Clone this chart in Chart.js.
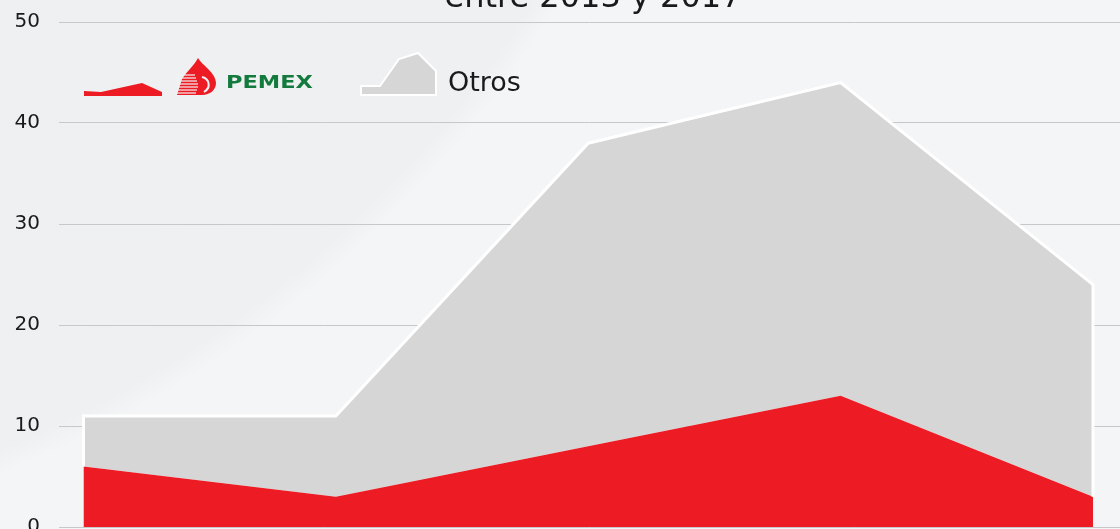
<!DOCTYPE html>
<html lang="es">

<head>
    <meta charset="UTF-8">
    <title>Pemex vs otros, entre 2013 y 2017</title>
    <script src="https://cdn.jsdelivr.net/npm/chart.js"></script>
    <style>
        html, body {
            margin: 0;
            padding: 0;
        }

        body {
            width: 1120px;
            height: 529px;
            overflow: hidden;
            background:
                radial-gradient(circle 1160px at -430px -603px, #eeeff1 0%, #eff0f2 98%, #f4f5f6 100%),
                #f4f5f6;
            font-family: "DejaVu Sans", sans-serif;
        }

        .wrap {
            position: relative;
            width: 1120px;
            height: 529px;
        }

        .wrap canvas {
            position: absolute;
            left: 0;
            top: 0;
        }

        .legend-icon {
            position: absolute;
        }

        .pemex-text {
            position: absolute;
            left: 226px;
            top: 73px;
            font-size: 18px;
            line-height: 1;
            font-weight: bold;
            color: #127a3c;
            transform: scaleX(1.25);
            transform-origin: left top;
        }

        .otros-text {
            position: absolute;
            left: 448px;
            top: 68px;
            font-size: 27px;
            line-height: 1;
            color: #1a1a1a;
        }
    </style>
</head>

<body>
    <div class="wrap">
        <canvas id="areaChart"></canvas>

        <!-- leyenda -->
        <svg class="legend-icon" style="left:84px;top:82px" width="80" height="16">
            <polygon points="0,9 17,10 58,1 78,10 78,14 0,14" fill="#ed1c24" />
        </svg>
        <svg class="legend-icon" style="left:175px;top:57px" width="44" height="40" viewBox="0 0 44 40">
            <path d="M23 1 C 28 9, 41 16, 41 26 C 41 33, 35 38, 27 38 L 2 38 L 7 22 C 12 14, 19 9, 23 1 Z" fill="#ed1c24" />
            <g stroke="#f1f2f3" stroke-width="1.2">
                <line x1="1" y1="18" x2="20" y2="18" />
                <line x1="1" y1="21" x2="21" y2="21" />
                <line x1="1" y1="24" x2="22" y2="24" />
                <line x1="1" y1="27" x2="23" y2="27" />
                <line x1="1" y1="30" x2="23" y2="30" />
                <line x1="1" y1="33" x2="22" y2="33" />
                <line x1="1" y1="36" x2="21" y2="36" />
            </g>
            <path d="M27 20 C 35 22, 36 31, 29 35" stroke="#f1f2f3" fill="none" stroke-width="2" />
        </svg>
        <span class="pemex-text">PEMEX</span>
        <svg class="legend-icon" style="left:358px;top:51px" width="82" height="47">
            <polygon points="3,35 22,35 41,8 60,2 78,20 78,44 3,44" fill="#d6d6d6" stroke="#ffffff" stroke-width="2" />
        </svg>
        <span class="otros-text">Otros</span>
    </div>

    <script>
        // Datos
        const years = ['2013', '2014', '2015', '2016', '2017'];
        const pemexValues = [6, 3, 8, 13, 3];
        const otrosValues = [5, 8, 30, 31, 21];
        const yTickValues = [0, 10, 20, 30, 40, 50];
        const chartTitle = 'entre 2013 y 2017';

        const RED = '#ed1c24';
        const GRAY = '#d6d6d6';

        // Título recortado arriba, como en la imagen original
        const titlePlugin = {
            id: 'topTitle',
            afterDraw(chart) {
                const ctx = chart.ctx;
                ctx.save();
                ctx.font = '32px "DejaVu Sans"';
                ctx.fillStyle = '#1a1a1a';
                ctx.textAlign = 'center';
                ctx.textBaseline = 'alphabetic';
                ctx.fillText(chartTitle, 593, 7);
                ctx.restore();
            }
        };

        // Bordes verticales blancos del área gris en los extremos
        const edgePlugin = {
            id: 'edges',
            afterDatasetsDraw(chart) {
                const ctx = chart.ctx;
                const low = chart.getDatasetMeta(0).data;
                const high = chart.getDatasetMeta(1).data;
                const last = high.length - 1;
                ctx.save();
                ctx.strokeStyle = '#ffffff';
                ctx.lineWidth = 3;
                [0, last].forEach(i => {
                    ctx.beginPath();
                    ctx.moveTo(high[i].x, high[i].y - 1.5);
                    ctx.lineTo(high[i].x, low[i].y);
                    ctx.stroke();
                });
                ctx.restore();
            }
        };

        const ctx = document.getElementById('areaChart');
        ctx.width = 1120;
        ctx.height = 529;

        new Chart(ctx, {
            type: 'line',
            data: {
                datasets: [{
                    label: 'PEMEX',
                    data: pemexValues.map((v, i) => ({ x: i, y: v })),
                    backgroundColor: RED,
                    borderWidth: 0,
                    pointRadius: 0,
                    tension: 0,
                    fill: 'origin'
                }, {
                    label: 'Otros',
                    data: otrosValues.map((v, i) => ({ x: i, y: v })),
                    backgroundColor: GRAY,
                    borderColor: '#ffffff',
                    borderWidth: 3,
                    pointRadius: 0,
                    tension: 0,
                    fill: '-1'
                }]
            },
            options: {
                responsive: false,
                animation: false,
                layout: {
                    padding: { top: 22, bottom: 2, left: 15, right: 0 }
                },
                plugins: {
                    legend: { display: false },
                    tooltip: { enabled: false }
                },
                scales: {
                    x: {
                        type: 'linear',
                        display: false,
                        min: -0.097,
                        max: years.length - 1 + 0.107
                    },
                    y: {
                        stacked: true,
                        min: yTickValues[0],
                        max: yTickValues[yTickValues.length - 1],
                        afterBuildTicks(scale) {
                            scale.ticks = yTickValues.map(v => ({ value: v }));
                        },
                        afterFit(scale) {
                            scale.width = 44;
                            scale.paddingTop = 0;
                            scale.paddingBottom = 0;
                        },
                        ticks: {
                            padding: 19,
                            color: '#1a1a1a',
                            font: { family: 'DejaVu Sans', size: 20 }
                        },
                        grid: {
                            color: '#c8c8c8',
                            lineWidth: 1,
                            drawTicks: false
                        },
                        border: { display: false }
                    }
                }
            },
            plugins: [titlePlugin, edgePlugin]
        });
    </script>
</body>

</html>
